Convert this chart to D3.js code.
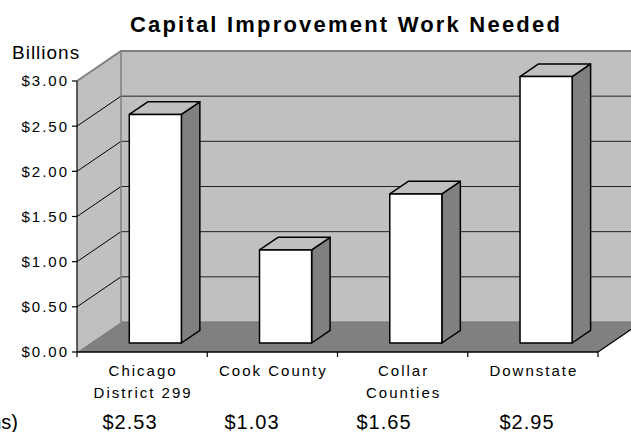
<!DOCTYPE html>
<html>
<head>
<meta charset="utf-8">
<script src="https://cdn.jsdelivr.net/npm/d3@7"></script>
<style>
  html, body { margin: 0; padding: 0; background: #fff; }
  svg { display: block; font-family: Arial, "Liberation Sans", sans-serif; }
</style>
</head>
<body>
<svg id="chart" width="631" height="432"></svg>
<script>
// Capital improvement work needed, in billions of dollars
const categories = ["Chicago District 299", "Cook County", "Collar Counties", "Downstate"];
const categoryLines = [["Chicago", "District 299"], ["Cook County"], ["Collar", "Counties"], ["Downstate"]];
const values = [2.53, 1.03, 1.65, 2.95];
const valueLabels = ["$2.53", "$1.03", "$1.65", "$2.95"];
const yTicks = [0, 0.5, 1, 1.5, 2, 2.5, 3];
const yTickLabels = ["$0.00", "$0.50", "$1.00", "$1.50", "$2.00", "$2.50", "$3.00"];

const svg = d3.select("#chart");

// plot geometry (front plane) and 3D depth offset
const plotLeft = 77, plotRight = 598, plotBottom = 352, plotTop = 81;
const depthX = 44, depthY = -30;
const barFront = 0.3, barBack = 0.72;

const x = d3.scaleBand().domain(categories).range([plotLeft, plotRight])
  .paddingInner(0.6).paddingOuter(0.3);
const xEdge = d3.scaleBand().domain(categories).range([plotLeft, plotRight]);
const y = d3.scaleLinear().domain([0, 3]).range([plotBottom, plotTop]);

const P = (px, py, d) => [px + d * depthX, py + d * depthY];
const poly = pts => "M" + pts.map(p => p.join(",")).join("L") + "Z";

// walls and floor
const backRight = plotRight + depthX + 20;
svg.append("path")
  .attr("d", poly([P(plotLeft, y(3), 0), P(plotLeft, y(3), 1), P(plotLeft, y(0), 1), P(plotLeft, y(0), 0)]))
  .attr("fill", "#c0c0c0");
svg.append("path")
  .attr("d", poly([P(plotLeft, y(3), 1), [backRight, y(3) + depthY], [backRight, y(0) + depthY], P(plotLeft, y(0), 1)]))
  .attr("fill", "#c0c0c0");
svg.append("path")
  .attr("d", poly([P(plotLeft, y(0), 0), P(plotLeft, y(0), 1), [backRight, y(0) + depthY], P(plotRight, y(0), 1), P(plotRight, y(0), 0)]))
  .attr("fill", "#808080");

// gridlines running across the side wall and the back wall
yTicks.filter(t => t > 0 && t < 3).forEach(t => {
  svg.append("path")
    .attr("d", "M" + P(plotLeft, y(t), 0) + "L" + P(plotLeft, y(t), 1))
    .attr("stroke", "#000").attr("stroke-width", 1).attr("fill", "none");
  svg.append("path")
    .attr("d", "M" + P(plotLeft, y(t), 1) + "L" + [backRight, y(t) + depthY])
    .attr("stroke", "#222").attr("stroke-width", 1).attr("fill", "none");
});

// wall edges
svg.append("path")
  .attr("d", "M" + P(plotLeft, y(3), 0) + "L" + P(plotLeft, y(3), 1) + "L" + [backRight, y(3) + depthY])
  .attr("stroke", "#808080").attr("stroke-width", 2).attr("fill", "none");
svg.append("path")
  .attr("d", "M" + P(plotLeft, y(3), 1) + "L" + P(plotLeft, y(0), 1))
  .attr("stroke", "#808080").attr("stroke-width", 1.5).attr("fill", "none");
svg.append("path")
  .attr("d", "M" + P(plotLeft, y(0), 1) + "L" + [backRight, y(0) + depthY])
  .attr("stroke", "#707070").attr("stroke-width", 1).attr("fill", "none");
svg.append("path")
  .attr("d", "M" + P(plotRight, y(0), 0) + "L" + P(plotRight, y(0), 1))
  .attr("stroke", "#000").attr("stroke-width", 1.2).attr("fill", "none");

// bars as boxes
const bars = svg.append("g");
categories.forEach((c, i) => {
  const x0 = x(c), x1 = x(c) + x.bandwidth();
  const yt = y(values[i]), yb = y(0);
  const g = bars.append("g").attr("stroke", "#000").attr("stroke-width", 1.5).attr("stroke-linejoin", "round");
  g.append("path")
    .attr("d", poly([P(x1, yt, barFront), P(x1, yt, barBack), P(x1, yb, barBack), P(x1, yb, barFront)]))
    .attr("fill", "#808080");
  g.append("path")
    .attr("d", poly([P(x0, yt, barFront), P(x0, yt, barBack), P(x1, yt, barBack), P(x1, yt, barFront)]))
    .attr("fill", "#c0c0c0");
  g.append("path")
    .attr("d", poly([P(x0, yt, barFront), P(x1, yt, barFront), P(x1, yb, barFront), P(x0, yb, barFront)]))
    .attr("fill", "#fff");
});

// y axis
const yAxis = svg.append("g");
yAxis.append("line").attr("x1", plotLeft).attr("x2", plotLeft).attr("y1", y(3)).attr("y2", y(0))
  .attr("stroke", "#000").attr("stroke-width", 1.2);
yTicks.forEach((t, i) => {
  yAxis.append("line").attr("x1", plotLeft - 5).attr("x2", plotLeft).attr("y1", y(t)).attr("y2", y(t))
    .attr("stroke", "#000").attr("stroke-width", 1.2);
  yAxis.append("text").attr("x", plotLeft - 8).attr("y", y(t)).attr("dy", "0.36em")
    .attr("text-anchor", "end").attr("font-size", 15).attr("letter-spacing", "2px")
    .attr("fill", "#000").text(yTickLabels[i]);
});

// x axis
const xAxis = svg.append("g");
xAxis.append("line").attr("x1", plotLeft).attr("x2", plotRight).attr("y1", plotBottom).attr("y2", plotBottom)
  .attr("stroke", "#000").attr("stroke-width", 1.5);
[plotLeft].concat(categories.map(c => xEdge(c) + xEdge.bandwidth())).forEach(px => {
  xAxis.append("line").attr("x1", px).attr("x2", px).attr("y1", plotBottom).attr("y2", plotBottom + 5)
    .attr("stroke", "#000").attr("stroke-width", 1.2);
});
categories.forEach((c, i) => {
  const cx = xEdge(c) + xEdge.bandwidth() / 2;
  const t = xAxis.append("text").attr("x", cx).attr("y", 376)
    .attr("text-anchor", "middle").attr("font-size", 15).attr("letter-spacing", "2px").attr("fill", "#000");
  categoryLines[i].forEach((line, j) => {
    t.append("tspan").attr("x", cx + 1).attr("dy", j === 0 ? 0 : 22).text(line);
  });
});

// value row under the axis (table columns)
const rowX = d3.scaleOrdinal().domain(categories).range([130, 252, 384, 527]);
svg.append("text").attr("x", 18).attr("y", 429).attr("text-anchor", "end")
  .attr("font-size", 20).attr("fill", "#000").text("(Billions)");
categories.forEach((c, i) => {
  svg.append("text").attr("x", rowX(c)).attr("y", 429).attr("text-anchor", "middle")
    .attr("font-size", 20).attr("letter-spacing", "1px").attr("fill", "#000").text(valueLabels[i]);
});

// titles
svg.append("text").attr("x", 346).attr("y", 32).attr("text-anchor", "middle")
  .attr("font-size", 22).attr("font-weight", "bold").attr("letter-spacing", "2.2px")
  .attr("fill", "#000").text("Capital Improvement Work Needed");
svg.append("text").attr("x", 12).attr("y", 59).attr("font-size", 19).attr("letter-spacing", "1px")
  .attr("fill", "#000").text("Billions");
</script>
</body>
</html>
